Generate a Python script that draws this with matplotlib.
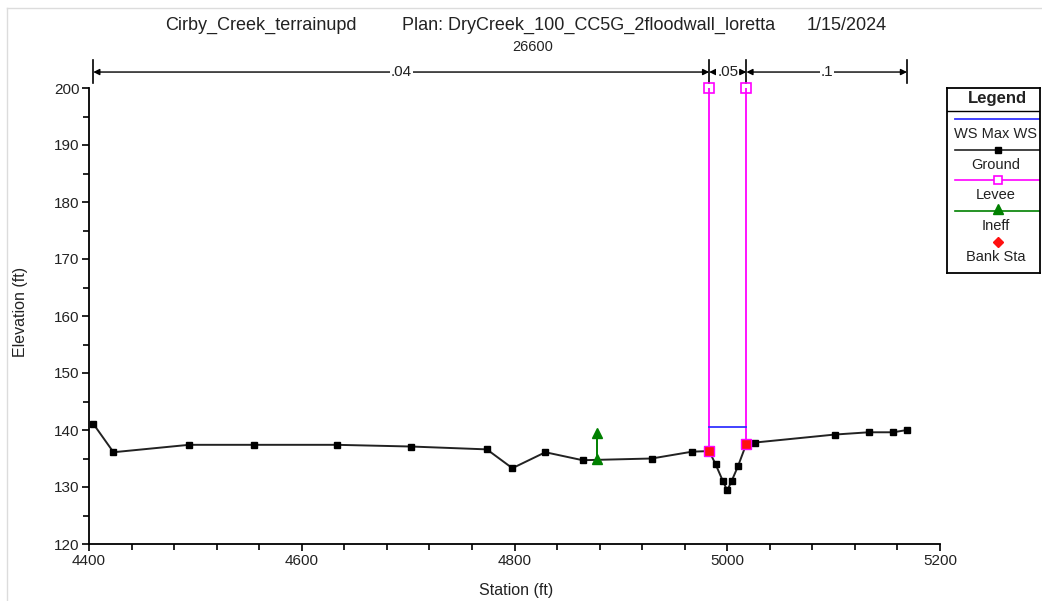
import matplotlib
matplotlib.use("Agg")
import matplotlib.pyplot as plt
from matplotlib.lines import Line2D
from matplotlib.ticker import MultipleLocator

plt.rcParams['font.family'] = ['Liberation Sans', 'DejaVu Sans']
plt.rcParams['font.size'] = 10

# ground profile
station = [4404, 4423, 4494, 4555, 4633, 4703, 4774, 4798, 4829, 4864, 4929,
           4967, 4983, 4989, 4996, 5000, 5004, 5010, 5018, 5026, 5101, 5133,
           5156, 5169]
elev = [141.1, 136.1, 137.4, 137.4, 137.4, 137.1, 136.6, 133.3, 136.1, 134.7,
        135.0, 136.2, 136.3, 134.0, 131.0, 129.4, 131.0, 133.6, 137.6, 137.8,
        139.2, 139.6, 139.6, 140.0]

# levees / bank stations
levee_sta = [4983, 5018]
levee_top = 200
bank_sta = [4983, 5018]
bank_elev = [136.3, 137.6]

# water surface
ws_sta = [4983, 5018]
ws_elev = 140.45

# ineffective flow
ineff_sta = 4878
ineff_ground = 134.9
ineff_top = 139.5

# manning n
n_breaks = [4404, 4983, 5018, 5169]
n_values = ['.04', '.05', '.1']

title_left = "Cirby_Creek_terrainupd"
title_mid = "Plan: DryCreek_100_CC5G_2floodwall_loretta"
title_right = "1/15/2024"
rs_label = "26600"

txt = '#222222'
W, H = 1042, 601

fig = plt.figure(figsize=(10.42, 6.01), dpi=100)
ax = fig.add_axes([89/W, 1 - 544/H, 851/W, 456/H])

# faint screenshot border
fig.add_artist(Line2D([7/W, 7/W], [0, 1 - 8/H], color='#dcdcdc', lw=1))
fig.add_artist(Line2D([7/W, 1], [1 - 8/H, 1 - 8/H], color='#dcdcdc', lw=1))

# levees
for s, g in zip(levee_sta, bank_elev):
    ax.plot([s, s], [g, levee_top], color='#ff00ff', lw=1.3, zorder=2)
    ax.plot([s], [levee_top], marker='s', ms=7, mfc='none', mec='#ff00ff',
            mew=1.2, clip_on=False, zorder=4)

# water surface
ax.plot(ws_sta, [ws_elev, ws_elev], color='#3333ff', lw=1.3, zorder=2)

# ground
ax.plot(station, elev, color='#222222', lw=1.4, marker='s', ms=5,
        mfc='black', mec='black', zorder=3, clip_on=False)

# bank stations
ax.plot(bank_sta, bank_elev, ls='none', marker='s', ms=7, mfc='#ff1010',
        mec='#ff00ff', mew=1, zorder=5)

# ineffective
ax.plot([ineff_sta, ineff_sta], [ineff_ground, ineff_top], color='#008000',
        lw=1.4, zorder=4)
ax.plot([ineff_sta, ineff_sta], [ineff_ground, ineff_top], ls='none',
        marker='^', ms=7, color='#008000', zorder=4)

ax.set_xlim(4400, 5200)
ax.set_ylim(120, 200)
ax.xaxis.set_major_locator(MultipleLocator(200))
ax.xaxis.set_minor_locator(MultipleLocator(40))
ax.yaxis.set_major_locator(MultipleLocator(10))
ax.yaxis.set_minor_locator(MultipleLocator(5))
ax.tick_params(which='major', direction='out', length=5, width=1.2,
               labelsize=11, labelcolor=txt, pad=2)
ax.tick_params(which='minor', direction='out', length=4, width=1.2)
for sp in ['top', 'right']:
    ax.spines[sp].set_visible(False)
for sp in ['left', 'bottom']:
    ax.spines[sp].set_linewidth(1.3)
ax.set_xlabel('Station (ft)', color=txt, fontsize=11.5)
ax.set_ylabel('Elevation (ft)', color=txt, fontsize=11.5)
ax.xaxis.set_label_coords((516 - 89) / 851, -39 / 456)
ax.yaxis.set_label_coords(-61 / 851, 0.51)

# manning n brackets
y_arrow = 202.8
for s in n_breaks:
    ax.plot([s, s], [200.8, 205.0], color='black', lw=1.2, clip_on=False)
for i, n in enumerate(n_values):
    a, b = n_breaks[i], n_breaks[i + 1]
    ax.annotate('', xy=(a, y_arrow), xytext=(b, y_arrow),
                arrowprops=dict(arrowstyle='<|-|>', color='black', lw=1,
                                mutation_scale=9, shrinkA=0, shrinkB=0),
                annotation_clip=False)
    ax.text((a + b) / 2, y_arrow, n, ha='center', va='center', color=txt,
            fontsize=11, clip_on=False,
            bbox=dict(facecolor='white', edgecolor='none', pad=0.5))

# titles
fig.text(165/W, 1 - 25/H, title_left, ha='left', va='center',
         fontsize=13, color=txt)
fig.text(402/W, 1 - 25/H, title_mid, ha='left', va='center',
         fontsize=13, color=txt)
fig.text(807/W, 1 - 25/H, title_right, ha='left', va='center',
         fontsize=13, color=txt)
fig.text(533/W, 1 - 47/H, rs_label, ha='center', va='center',
         fontsize=10.5, color=txt)

# legend box drawn by hand
lx = fig.add_axes([947/W, 1 - 273/H, 93/W, 185/H])
lx.set_xlim(947, 1040)
lx.set_ylim(273, 88)
lx.set_xticks([])
lx.set_yticks([])
for sp in lx.spines.values():
    sp.set_linewidth(1.3)
lx.plot([947, 1040], [111, 111], color='black', lw=1)
lx.text(997, 98, 'Legend', ha='center', va='center', fontsize=12,
        fontweight='bold', color=txt)
lx.plot([955, 1040], [119, 119], color='#3333ff', lw=1.3)
lx.text(996, 134, 'WS Max WS', ha='center', va='center', fontsize=10.5, color=txt)
lx.plot([955, 1040], [150, 150], color='#222222', lw=1.2)
lx.plot([998], [150], marker='s', ms=5, color='black')
lx.text(996, 165, 'Ground', ha='center', va='center', fontsize=10.5, color=txt)
lx.plot([955, 1040], [180, 180], color='#ff00ff', lw=1.2)
lx.plot([998], [180], marker='s', ms=6, mfc='white', mec='#ff00ff', mew=1.2)
lx.text(996, 195, 'Levee', ha='center', va='center', fontsize=10.5, color=txt)
lx.plot([955, 1040], [211, 211], color='#008000', lw=1.2)
lx.plot([998], [209], marker='^', ms=7, color='#008000')
lx.text(996, 226, 'Ineff', ha='center', va='center', fontsize=10.5, color=txt)
lx.plot([998], [242], marker='D', ms=5, color='#ff1010')
lx.text(996, 257, 'Bank Sta', ha='center', va='center', fontsize=10.5, color=txt)

fig.savefig('out.png', dpi=100)
